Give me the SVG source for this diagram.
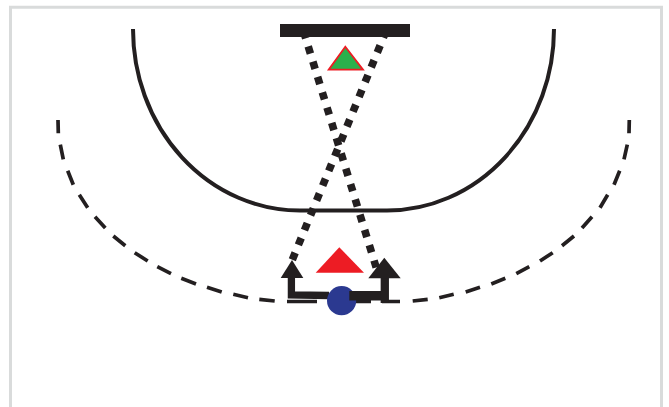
<svg xmlns="http://www.w3.org/2000/svg" width="669" height="407" viewBox="0 0 669 407">
<style>
.k{fill:none;stroke:#231f20}
.a{fill:#231f20}
.dots{stroke-width:7.600;stroke-dasharray:7.500 8.500}
</style>
<rect width="669" height="407" fill="#fff"/>
<path id="frame" d="M10.500 407V7.200H661.500V407" fill="none" stroke="#d9dbdb" stroke-width="3"/>
<g id="court">
<path class="k" stroke-width="4" d="M133 29A167 181.500 0 0 0 300 210.500H387A167 181.500 0 0 0 554 29"/>
<path class="k" stroke-width="3.700" d="M58 120L58.300 133.300M60.300 144.700L63.300 159.300M67.700 170.700L73.300 184.700M79.300 194.700L87.700 207.700M95 216.700L105.300 228M113.300 236L125.300 245.700M134.700 252.700L147.700 261M157.300 266.700L171 273.700M181.300 278.300L196 284M207 287.300L221.700 292M233.300 294.300L248 297.700M259.300 299.300L274.700 301M287 301.500H317M350 301.500H371M382 301.500H400M412.700 301L427.700 299.300M439.300 297.700L453.700 294.300M465.700 292L480 287.300M491.300 284L505.300 278.300M516.300 273.700L529.300 266.700M540 261L552.700 252.700M562 245.700L574 236M582 228L592 216.700M600 207.700L607.700 194.700M614 184.700L619.700 170.700M624 159.300L627.300 144.700M629 133.300L629.300 120"/>
</g>
<g id="connectors">
<path class="k dots" d="M303.500 31.100L376.200 267.500"/>
<path class="k dots" d="M386.200 30.700L292.200 260"/>
<path class="k" stroke-width="7.300" d="M291.400 276V295L329 295.500"/>
<polygon class="a" points="292,260 280.700,278 303.300,278"/>
</g>
<g id="ball"><circle cx="341.600" cy="300.700" r="14.600" fill="#2b3990"/></g>
<g id="arrow-right">
<path class="k" stroke-width="9.500" d="M349.300 295.700H385"/>
<path class="k" stroke-width="8.300" d="M384.800 276V303"/>
<polygon class="a" points="384.300,257.700 368.300,278.300 400.700,278.300"/>
</g>
<g id="goal"><rect class="a" x="280" y="24" width="130" height="13"/></g>
<g id="player-green"><polygon points="345.300,46.800 328.700,69.600 363,69.600" fill="#2bb04c" stroke="#ed1c24" stroke-width="1.800"/></g>
<g id="player-red"><polygon points="339.300,247.300 315.700,272.700 364,272.700" fill="#ed1c24"/></g>
</svg>
